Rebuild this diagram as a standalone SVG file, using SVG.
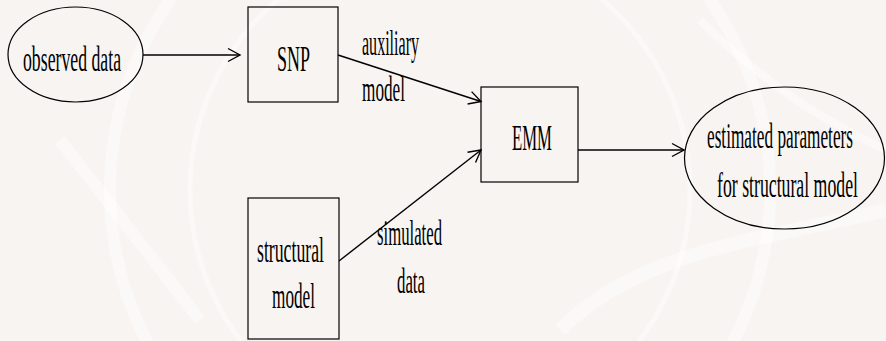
<svg xmlns="http://www.w3.org/2000/svg" width="886" height="341" viewBox="0 0 886 341">
<style>
.shape{fill:none;stroke:#000;stroke-width:1.2}
.conn{fill:none;stroke:#000;stroke-width:1.4}
.t{font-family:"Liberation Serif","Times New Roman",serif;font-size:35px;fill:#000}
.wm{fill:none;stroke:#ffffff;stroke-opacity:0.45}
</style>
<defs>
<marker id="arr" markerUnits="userSpaceOnUse" markerWidth="16" markerHeight="16" viewBox="-14 -8 16 16" refX="0" refY="0" orient="auto">
<path d="M-12,-6.5 L0,0 L-12,6.5" fill="none" stroke="#000" stroke-width="1.4"/>
</marker>
</defs>
<rect width="886" height="341" fill="#f8f4f2"/>
<g id="watermark">
<circle class="wm" cx="440" cy="190" r="330" stroke-width="12"/>
<circle class="wm" cx="440" cy="190" r="250" stroke-width="5"/>
<path class="wm" d="M60,140 L200,320" stroke-width="12"/>
<path class="wm" d="M560,330 C640,250 760,240 886,210" stroke-width="14"/>
<path class="wm" d="M700,20 C760,80 820,120 886,150" stroke-width="8"/>
</g>
<g id="connectors">
<line class="conn" x1="143" y1="55" x2="240" y2="55" marker-end="url(#arr)"/>
<line class="conn" x1="338" y1="55" x2="481" y2="101.5" marker-end="url(#arr)"/>
<line class="conn" x1="339" y1="261" x2="481" y2="150" marker-end="url(#arr)"/>
<line class="conn" x1="578" y1="150" x2="684" y2="150" marker-end="url(#arr)"/>
<text class="t" x="362" y="55" textLength="57" lengthAdjust="spacingAndGlyphs">auxiliary</text>
<text class="t" x="362" y="101" textLength="43" lengthAdjust="spacingAndGlyphs">model</text>
<text class="t" x="377" y="245" textLength="65" lengthAdjust="spacingAndGlyphs">simulated</text>
<text class="t" x="397" y="293" textLength="28" lengthAdjust="spacingAndGlyphs">data</text>
</g>
<g id="observed">
<ellipse class="shape" cx="75.5" cy="54.5" rx="67.5" ry="47.5"/>
<text class="t" x="23" y="71" textLength="98" lengthAdjust="spacingAndGlyphs">observed data</text>
</g>
<g id="snp">
<rect class="shape" x="248" y="7" width="90" height="95"/>
<text class="t" x="277" y="71" textLength="33" lengthAdjust="spacingAndGlyphs">SNP</text>
</g>
<g id="emm">
<rect class="shape" x="481" y="87" width="97" height="95"/>
<text class="t" x="512" y="150" textLength="40" lengthAdjust="spacingAndGlyphs">EMM</text>
</g>
<g id="structural">
<rect class="shape" x="248" y="198" width="91" height="141"/>
<text class="t" x="257" y="262" textLength="67" lengthAdjust="spacingAndGlyphs">structural</text>
<text class="t" x="272" y="308" textLength="43" lengthAdjust="spacingAndGlyphs">model</text>
</g>
<g id="estimated">
<ellipse class="shape" cx="784.5" cy="158" rx="100" ry="71"/>
<text class="t" x="707" y="148" textLength="146" lengthAdjust="spacingAndGlyphs">estimated parameters</text>
<text class="t" x="717" y="197" textLength="141" lengthAdjust="spacingAndGlyphs">for structural model</text>
</g>
</svg>
